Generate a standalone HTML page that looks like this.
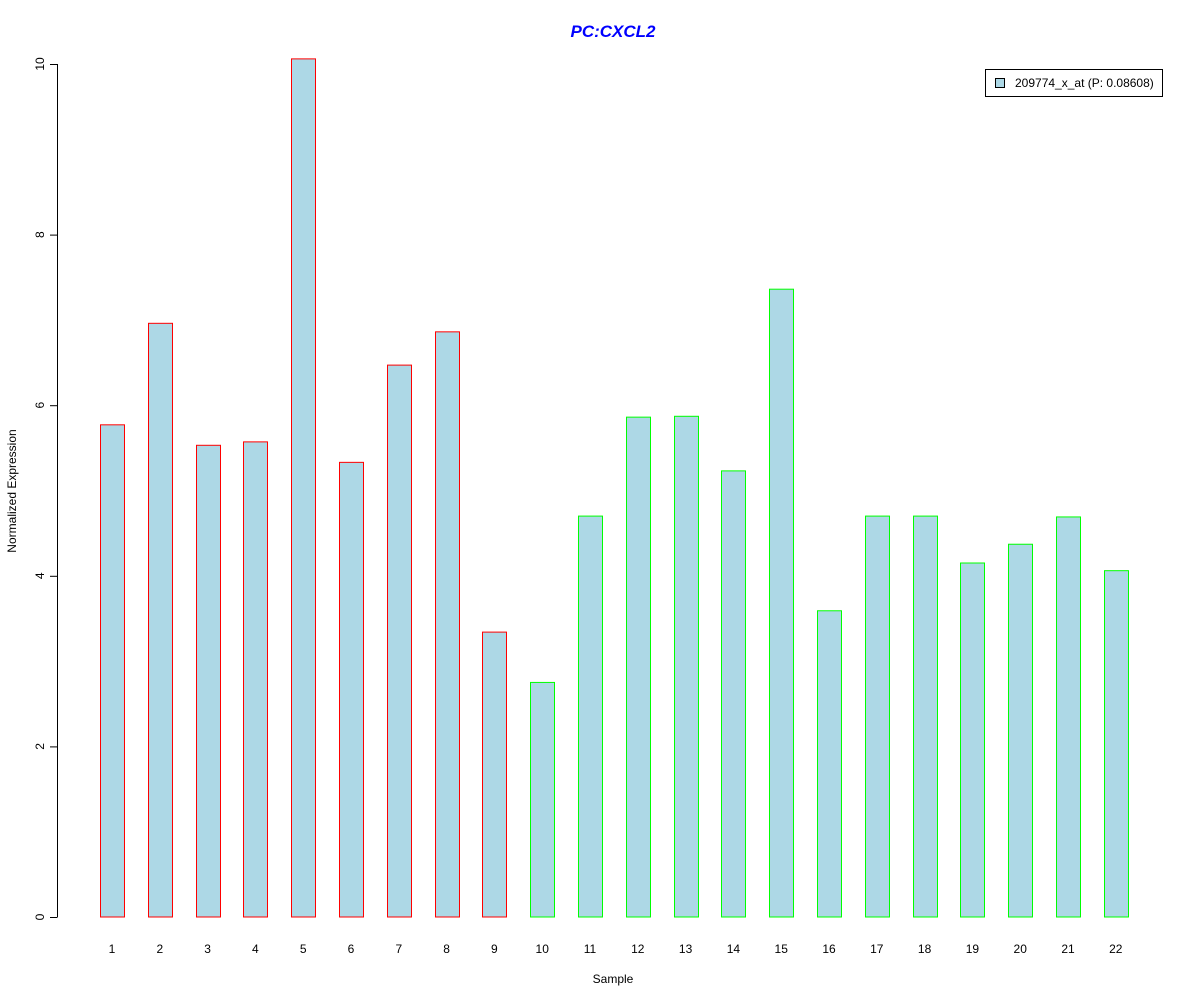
<!DOCTYPE html>
<html><head><meta charset="utf-8"><style>
body{margin:0;background:#fff;}
svg{display:block;font-family:"Liberation Sans",Arial,sans-serif;}
</style></head><body>
<svg id="chart" width="1200" height="1000">
<rect width="1200" height="1000" fill="#fff"/>
<text x="613" y="37" text-anchor="middle" font-size="17" font-weight="bold" font-style="italic" fill="#0000ff">PC:CXCL2</text>
<g id="yaxis"></g>
<g id="bars"></g>
<g id="xlabels"></g>
<text x="613" y="983" text-anchor="middle" font-size="12">Sample</text>
<text transform="translate(16,491) rotate(-90)" text-anchor="middle" font-size="12">Normalized Expression</text>
<g>
<rect x="985.5" y="69.5" width="177" height="27" fill="#fff" stroke="#000"/>
<rect x="995.5" y="78.5" width="9" height="9" fill="#add8e6" stroke="#000"/>
<text x="1015" y="87" font-size="12">209774_x_at (P: 0.08608)</text>
</g>
</svg>
<script>
const categories=["1","2","3","4","5","6","7","8","9","10","11","12","13","14","15","16","17","18","19","20","21","22"];
const values=[5.77,6.96,5.53,5.57,10.06,5.33,6.47,6.86,3.34,2.75,4.70,5.86,5.87,5.23,7.36,3.59,4.70,4.70,4.15,4.37,4.69,4.06];
const groups=["r","r","r","r","r","r","r","r","r","g","g","g","g","g","g","g","g","g","g","g","g","g"];
const yTicks=[0,2,4,6,8,10];
const NS="http://www.w3.org/2000/svg";
const y=v=>917-v*85.3;
const x=i=>112+i*47.8;
const yax=document.getElementById('yaxis');
const ln=document.createElementNS(NS,'line');
ln.setAttribute('x1',57.5);ln.setAttribute('x2',57.5);ln.setAttribute('y1',y(0));ln.setAttribute('y2',y(10));ln.setAttribute('stroke','#000');


yax.appendChild(ln);
yTicks.forEach(t=>{
 const tk=document.createElementNS(NS,'line');
 tk.setAttribute('x1',50);tk.setAttribute('x2',57.5);tk.setAttribute('y1',y(t)+0.5);tk.setAttribute('y2',y(t)+0.5);tk.setAttribute('stroke','#000');
 
 
 yax.appendChild(tk);
 const tx=document.createElementNS(NS,'text');
 tx.setAttribute('transform',`translate(44,${y(t)}) rotate(-90)`);
 tx.setAttribute('text-anchor','middle');tx.setAttribute('font-size','12');
 tx.textContent=t;
 
 
 yax.appendChild(tx);
});
const bars=document.getElementById('bars'),xl=document.getElementById('xlabels');
values.forEach((v,i)=>{
 const r=document.createElementNS(NS,'rect');
 r.setAttribute('x',Math.round(x(i)-12)+0.5);r.setAttribute('width',24);
 r.setAttribute('y',y(v));r.setAttribute('height',y(0)-y(v));
 r.setAttribute('fill','#add8e6');r.setAttribute('stroke',groups[i]==='r'?'#ff0000':'#00ff00');
 
 
 bars.appendChild(r);
 const t=document.createElementNS(NS,'text');
 t.setAttribute('x',x(i));t.setAttribute('y',953);t.setAttribute('text-anchor','middle');t.setAttribute('font-size','12');
 t.textContent=categories[i];
 
 
 xl.appendChild(t);
});
</script>
</body></html>
